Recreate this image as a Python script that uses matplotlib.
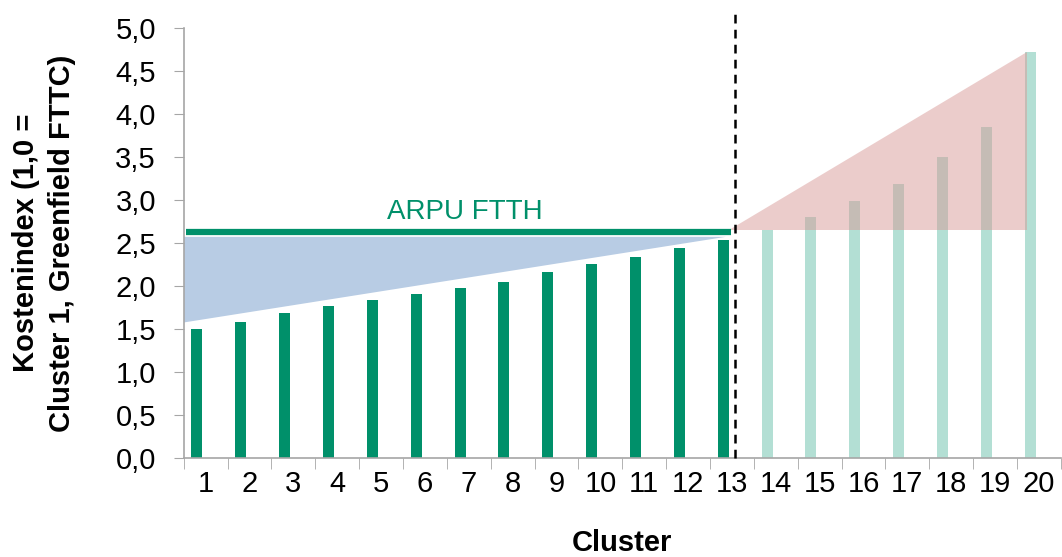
import numpy as np
import matplotlib
matplotlib.use("Agg")
from matplotlib import pyplot as plt
from matplotlib.patches import Polygon

plt.rcParams['font.family'] = ['Liberation Sans', 'DejaVu Sans']

#数据
clusters = list(range(1, 21))
cost_index = [1.50, 1.58, 1.68, 1.77, 1.83, 1.91, 1.97, 2.05, 2.16, 2.25,
              2.34, 2.44, 2.53, 2.65, 2.80, 2.99, 3.18, 3.50, 3.85, 4.72]
n_profit = 13  #前13个cluster为深色
arpu_ftth = 2.63
blue_low = 1.57
blue_high = 2.57
red_base = 2.65
red_top = 4.72

DARK = '#00906a'
LIGHT = '#b3dfd4'

fig = plt.figure(figsize=(10.62, 5.57), dpi=100)
ax = fig.add_axes([0.173, 0.178, 0.826, 0.772])

x = np.array(clusters)
y = np.array(cost_index)
colors = [DARK] * n_profit + [LIGHT] * (len(clusters) - n_profit)

#蓝色三角
blue = Polygon([[0.45, blue_high], [12.86, blue_high], [0.45, blue_low]],
               closed=True, facecolor='#b8cce4', edgecolor='none', zorder=1)
ax.add_patch(blue)

ax.bar(x - 0.2, y, width=0.25, color=colors, zorder=2)

#红色三角
red = Polygon([[12.94, red_base], [19.73, red_base], [19.73, red_top]],
              closed=True, facecolor='#d89a98', alpha=0.5, edgecolor='none', zorder=3)
ax.add_patch(red)

#ARPU线
ax.plot([0.55, 12.98], [arpu_ftth, arpu_ftth], color=DARK, lw=4.5,
        solid_capstyle='butt', zorder=4)
ax.text(6.9, 2.86, 'ARPU FTTH', color=DARK, fontsize=20, ha='center', va='center')

#分割虚线
ax.plot([13.08, 13.08], [0, 5.21], color='black', lw=1.8, ls=(0, (3.5, 2.5)),
        clip_on=False, zorder=5)

ax.set_xlim(0.5, 20.5)
ax.set_ylim(0, 5.0)

ax.set_xticks(clusters)
ax.set_xticklabels([str(c) for c in clusters], fontsize=21)
ax.set_xticks(np.arange(0.5, 21, 1), minor=True)
ax.tick_params(axis='x', which='major', length=0, pad=9)
ax.tick_params(axis='x', which='minor', length=8, color='#a6a6a6', direction='out')

yt = np.arange(0, 5.01, 0.5)
ax.set_yticks(yt)
ax.set_yticklabels([f"{v:.1f}".replace('.', ',') for v in yt], fontsize=21)
ax.tick_params(axis='y', length=7, color='#a6a6a6', direction='out', pad=13)

for s in ['top', 'right']:
    ax.spines[s].set_visible(False)
for s in ['left', 'bottom']:
    ax.spines[s].set_color('#a6a6a6')
    ax.spines[s].set_linewidth(1.2)

ax.set_xlabel('Cluster', fontsize=21, fontweight='bold', labelpad=22)
ax.set_ylabel('Kostenindex (1,0 =\nCluster 1, Greenfield FTTC)', fontsize=21,
              fontweight='bold', labelpad=28, linespacing=1.4)

fig.savefig('out.png', dpi=100)
